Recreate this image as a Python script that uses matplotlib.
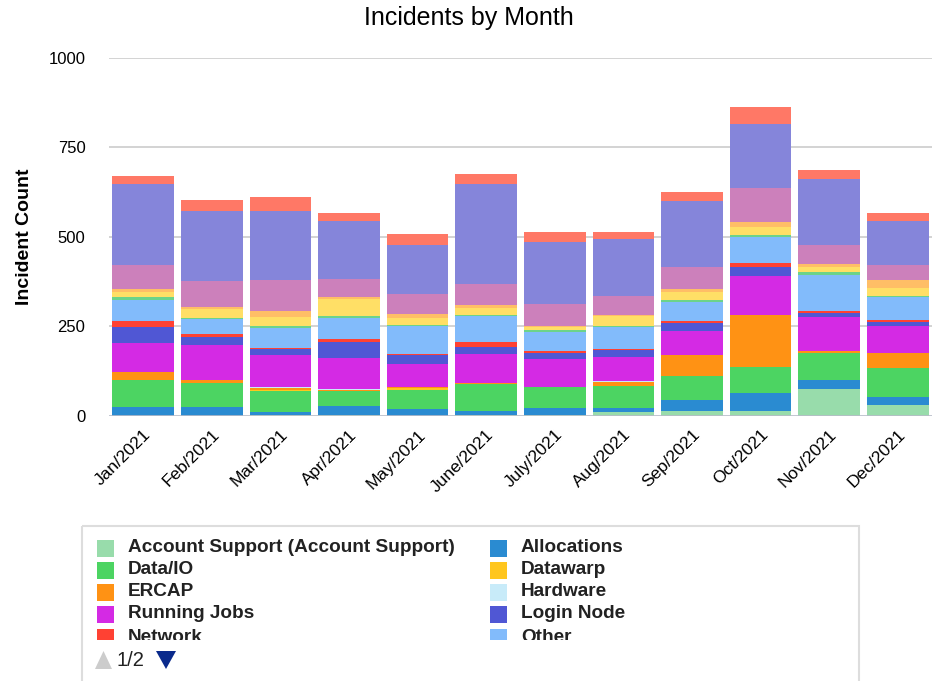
import matplotlib
matplotlib.use("Agg")
import matplotlib.pyplot as plt
from matplotlib.patches import Rectangle, Polygon
import numpy as np

plt.rcParams['font.family'] = ['Liberation Sans', 'DejaVu Sans']

months = ["Jan/2021", "Feb/2021", "Mar/2021", "Apr/2021", "May/2021", "June/2021",
          "July/2021", "Aug/2021", "Sep/2021", "Oct/2021", "Nov/2021", "Dec/2021"]

account_support = [0, 0, 2, 3, 0, 3, 3, 10, 13, 13, 76, 31]
allocations     = [24, 24, 9, 25, 20, 11, 20, 13, 32, 52, 24, 23]
data_io         = [76, 69, 59, 41, 53, 75, 59, 62, 67, 71, 76, 80]
datawarp        = [0, 0, 3, 0, 4, 0, 0, 0, 0, 0, 0, 0]
ercap           = [22, 7, 4, 3, 4, 3, 0, 9, 58, 146, 4, 41]
hardware        = [0, 0, 4, 3, 0, 0, 0, 3, 0, 0, 0, 0]
running_jobs    = [81, 98, 88, 87, 63, 80, 76, 68, 67, 109, 95, 75]
login_node      = [44, 22, 17, 44, 25, 21, 17, 18, 22, 26, 13, 12]
network         = [18, 8, 5, 8, 5, 14, 5, 5, 6, 9, 6, 5]
other           = [59, 42, 54, 59, 77, 72, 54, 61, 54, 72, 98, 65]
# series on legend page 2 (names not visible in the reference)
page2_a         = [7, 4, 7, 7, 4, 4, 7, 2, 4, 8, 9, 4]
page2_b         = [14, 24, 25, 47, 18, 18, 6, 27, 23, 21, 14, 20]
page2_c         = [9, 6, 17, 4, 11, 8, 3, 4, 8, 14, 8, 22]
page2_d         = [68, 72, 85, 50, 55, 58, 62, 53, 62, 94, 54, 44]
page2_e         = [226, 196, 192, 163, 138, 280, 174, 160, 183, 179, 183, 121]
page2_f         = [22, 31, 40, 23, 31, 27, 27, 19, 26, 48, 25, 22]

series_names = ["Account Support (Account Support)", "Allocations", "Data/IO", "Datawarp",
                "ERCAP", "Hardware", "Running Jobs", "Login Node", "Network", "Other",
                "Page 2 A", "Page 2 B", "Page 2 C", "Page 2 D", "Page 2 E", "Page 2 F"]
series_values = [account_support, allocations, data_io, datawarp, ercap, hardware,
                 running_jobs, login_node, network, other,
                 page2_a, page2_b, page2_c, page2_d, page2_e, page2_f]
colors = ["#98dcab", "#2a8bd1", "#4cd462", "#ffc61e", "#ff9214", "#c8ebf9",
          "#d42ae4", "#5057d4", "#ff4133", "#82bbfb",
          "#6cd38a", "#ffdf66", "#ffbe66", "#cc80bb", "#8585da", "#ff7866"]

yticks = [0, 250, 500, 750, 1000]

W, H = 938, 681
fig = plt.figure(figsize=(W / 100, H / 100), dpi=100)

ax = fig.add_axes([109 / W, 1 - 416 / H, 823 / W, (416 - 57.5) / H])
x = np.arange(len(months))
bottom = np.zeros(len(months))
for name, vals, c in zip(series_names, series_values, colors):
    v = np.array(vals, dtype=float)
    ax.bar(x, v, bottom=bottom, width=0.9, color=c, linewidth=0, zorder=3)
    bottom += v

ax.set_xlim(-0.5, len(months) - 0.5)
ax.set_ylim(0, 1000)
ax.set_yticks(yticks)
ax.set_yticklabels([str(t) for t in yticks], fontsize=12)
for t in yticks:
    ax.axhline(t, color="#cccccc" if t else "#b8bcc8", lw=1.2, zorder=1 if t else 4)
for s in ax.spines.values():
    s.set_visible(False)
ax.tick_params(axis='y', length=0, pad=17)
ax.tick_params(axis='x', length=0, pad=8)
ax.set_xticks(x)
ax.set_xticklabels(months, fontsize=12.5, rotation=45, ha='right', va='top',
                   rotation_mode='anchor')
fig.text(25 / W, 1 - 237 / H, "Incident Count", fontsize=14, fontweight='bold',
         rotation=90, ha='center', va='center')
fig.text(469 / W, 1 - 18 / H, "Incidents by Month", fontsize=18, ha='center', va='center')

# legend drawn in pixel coordinates
lax = fig.add_axes([0, 0, 1, 1], zorder=5)
lax.set_xlim(0, W)
lax.set_ylim(H, 0)
lax.axis('off')
lax.add_patch(Rectangle((82, 526), 777, 200, fill=False, edgecolor="#dddddd", lw=1.5))
clip = Rectangle((83, 527), 775, 113, transform=lax.transData, visible=False)
lax.add_patch(clip)

col_x = [97, 490]
row_y = [548, 570, 592, 614, 637]
for i in range(10):
    col = i % 2
    row = i // 2
    sq = Rectangle((col_x[col], row_y[row] - 8.5), 17, 17, color=colors[i], lw=0)
    lax.add_patch(sq)
    sq.set_clip_path(clip)
    t = lax.text(col_x[col] + 31, row_y[row], series_names[i], fontsize=13.7,
                 fontweight='bold', va='center', ha='left', color="#222222",
                 clip_on=True)
    t.set_clip_path(clip)

lax.add_patch(Polygon([[95, 669], [112, 669], [103.5, 651]], closed=True, color="#cccccc", lw=0))
lax.text(117, 660, "1/2", fontsize=14.5, va='center', ha='left', color="#222222")
lax.add_patch(Polygon([[156, 651], [176, 651], [166, 669]], closed=True, color="#0a2a8c", lw=0))

fig.savefig("out.png", dpi=100, facecolor="white")
